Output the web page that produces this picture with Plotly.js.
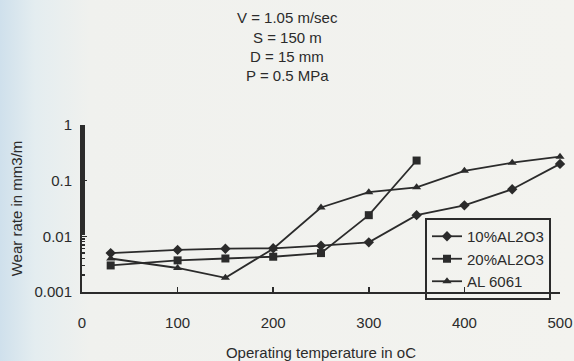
<!DOCTYPE html>
<html>
<head>
<meta charset="utf-8">
<script src="https://cdn.plot.ly/plotly-3.0.1.min.js"></script>
<style>
html,body{margin:0;padding:0;}
body{width:574px;height:361px;background:linear-gradient(90deg,#cfe0ec 0px,#e4edf0 35px,#f0f1ee 90px,#f3f3ef 100%);}
#chart{width:574px;height:361px;}
</style>
</head>
<body>
<div id="chart"></div>
<script>
const temps = [30, 100, 150, 200, 250, 300, 350, 400, 450, 500];
const temps20 = [30, 100, 150, 200, 250, 300, 350];
const al10 = [0.005, 0.0057, 0.006, 0.0061, 0.0068, 0.0078, 0.024, 0.036, 0.07, 0.2];
const al20 = [0.003, 0.0037, 0.004, 0.0043, 0.005, 0.024, 0.23];
const al6061 = [0.004, 0.0027, 0.0018, 0.006, 0.033, 0.062, 0.076, 0.15, 0.21, 0.27];
const seriesNames = ['10%AL2O3', '20%AL2O3', 'AL 6061'];
const titleLines = ['V = 1.05 m/sec', 'S = 150 m', 'D = 15 mm', 'P = 0.5 MPa'];
const yTickVals = [0.001, 0.01, 0.1, 1];
const yTickText = ['0.001', '0.01', '0.1', '1'];
const xTickVals = [0, 100, 200, 300, 400, 500];

const ink = '#2b2b2b';
function tr(x, y, name, sym) {
  return {
    x: x, y: y, name: name, type: 'scatter', mode: 'lines+markers',
    line: {color: ink, width: 1.8},
    marker: {symbol: sym, size: 8, color: ink},
    cliponaxis: false
  };
}
const data = [
  tr(temps, al10, seriesNames[0], 'diamond'),
  tr(temps20, al20, seriesNames[1], 'square'),
  tr(temps, al6061, seriesNames[2], 'triangle-up')
];
// plot area: x 82..560 px, y 125..292 px
const titleY = [18, 37, 56, 75];
const annotations = titleLines.map((t, i) => ({
  text: t, showarrow: false,
  xref: 'paper', yref: 'paper',
  x: (287 - 82) / 478, xanchor: 'center',
  y: (292 - titleY[i]) / 167, yanchor: 'middle',
  font: {size: 15, color: ink}
}));
const layout = {
  width: 574, height: 361,
  margin: {l: 82, r: 14, t: 125, b: 69},
  paper_bgcolor: 'rgba(0,0,0,0)',
  plot_bgcolor: 'rgba(0,0,0,0)',
  font: {family: 'Liberation Sans, Arial, sans-serif', color: ink, size: 15},
  annotations: annotations,
  showlegend: true,
  legend: {
    x: (425 - 82) / 478, xanchor: 'left', y: (292 - 259) / 167, yanchor: 'middle',
    bordercolor: ink, borderwidth: 2, bgcolor: 'rgba(0,0,0,0)',
    font: {size: 15, color: ink},
    tracegroupgap: 0, itemwidth: 30
  },
  xaxis: {
    range: [0, 500], tickvals: xTickVals,
    showline: true, linecolor: ink, linewidth: 2,
    ticks: 'inside', ticklen: 5, tickcolor: ink, tickwidth: 1.5,
    showgrid: false, zeroline: false,
    tickfont: {size: 15},
    ticklabelstandoff: 16,
    title: {text: 'Operating temperature in oC', font: {size: 15}, standoff: 22}
  },
  yaxis: {
    type: 'log', range: [-3, 0],
    tickvals: yTickVals, ticktext: yTickText,
    showline: true, linecolor: ink, linewidth: 2,
    ticks: 'inside', ticklen: 5, tickcolor: ink, tickwidth: 1.5,
    minor: {ticks: 'inside', ticklen: 3, tickcolor: ink, showgrid: false},
    showgrid: false, zeroline: false,
    tickfont: {size: 15},
    ticklabelstandoff: 5,
    title: {text: 'Wear rate in mm3/m', font: {size: 15}, standoff: 8}
  }
};
Plotly.newPlot('chart', data, layout, {displayModeBar: false, staticPlot: true});
</script>
</body>
</html>
